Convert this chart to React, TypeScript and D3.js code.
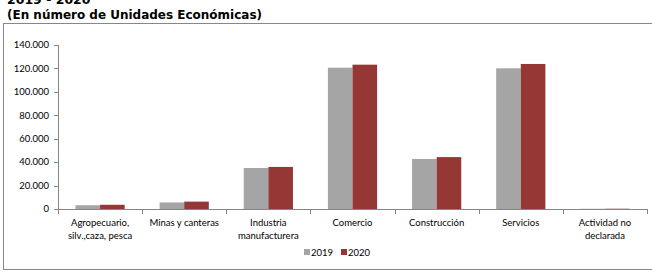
import React from "react";
import * as d3 from "d3";

const categories = [
  ["Agropecuario,", "silv.,caza, pesca"],
  ["Minas y canteras"],
  ["Industria", "manufacturera"],
  ["Comercio"],
  ["Construcción"],
  ["Servicios"],
  ["Actividad no", "declarada"],
];
const values2019 = [3200, 5600, 35000, 120600, 42700, 120100, 200];
const values2020 = [3600, 6300, 35900, 123200, 44300, 123800, 250];
const yTicks = [0, 20000, 40000, 60000, 80000, 100000, 120000, 140000];
const seriesNames = ["2019", "2020"];
const colors = ["#A5A5A5", "#953735"];

export default function App() {
  const W = 652, H = 272;
  const x0 = 58, x1 = 647;
  const y = d3.scaleLinear().domain([0, 140000]).range([209, 45]);
  const xb = d3.scaleBand<number>().domain(categories.map((_, i) => i)).range([x0, x1]).paddingInner(0).paddingOuter(0);
  const inner = d3.scaleBand<number>().domain([0, 1]).range([0, xb.bandwidth()]).paddingOuter(0.71).paddingInner(0);
  const fmt = (v: number) => d3.format(",")(v).replace(/,/g, ".");
  const font = "Lato, 'Open Sans', sans-serif";
  const axisColor = "#868686";
  return (
    <svg width={W} height={H} style={{ position: "absolute", left: 0, top: 0 }}>
      <rect width={W} height={H} fill="#fff" />
      <text x={7} y={4} fontFamily="'DejaVu Sans', Verdana, sans-serif" fontWeight="bold" fontSize={12.5} fill="#000">2019 - 2020</text>
      <text x={7} y={19} fontFamily="'DejaVu Sans', Verdana, sans-serif" fontWeight="bold" fontSize={12.5} fill="#000" textLength={255} lengthAdjust="spacingAndGlyphs">(En número de Unidades Económicas)</text>
      <rect x={3.5} y={23.5} width={W + 10} height={246} fill="none" stroke="#878787" strokeWidth={1} />
      {/* y axis */}
      <line x1={x0 + 0.5} x2={x0 + 0.5} y1={y(140000)} y2={y(0)} stroke={axisColor} />
      {yTicks.map((t) => (
        <g key={t}>
          <line x1={x0 - 4} x2={x0} y1={Math.round(y(t)) + 0.5} y2={Math.round(y(t)) + 0.5} stroke={axisColor} />
          <text x={49} y={y(t)} dy="0.35em" textAnchor="end" fontFamily={font} fontSize={9.5} fill="#000">{fmt(t)}</text>
        </g>
      ))}
      {/* bars */}
      {categories.map((_, i) => (
        <g key={i}>
          {[values2019[i], values2020[i]].map((v, s) => (
            <rect key={s} x={(xb(i) as number) + (inner(s) as number)} width={inner.bandwidth()} y={y(v)} height={y(0) - y(v)} fill={colors[s]} />
          ))}
        </g>
      ))}
      {/* x axis */}
      <line x1={x0} x2={x1} y1={y(0) + 0.5} y2={y(0) + 0.5} stroke={axisColor} />
      {d3.range(categories.length + 1).map((i) => {
        const xx = Math.round(x0 + i * xb.bandwidth()) + 0.5;
        return <line key={i} x1={xx} x2={xx} y1={y(0)} y2={y(0) + 5} stroke={axisColor} />;
      })}
      {categories.map((lines, i) => (
        <text key={i} textAnchor="middle" fontFamily={font} fontSize={9.5} fill="#000">
          {lines.map((l, j) => (
            <tspan key={j} x={(xb(i) as number) + xb.bandwidth() / 2} y={226 + j * 13}>{l}</tspan>
          ))}
        </text>
      ))}
      {/* legend */}
      {seriesNames.map((n, s) => (
        <g key={n}>
          <rect x={304 + s * 37} y={249} width={6} height={6} fill={colors[s]} />
          <text x={311 + s * 37} y={255.5} fontFamily={font} fontSize={9.5} fill="#000">{n}</text>
        </g>
      ))}
    </svg>
  );
}
